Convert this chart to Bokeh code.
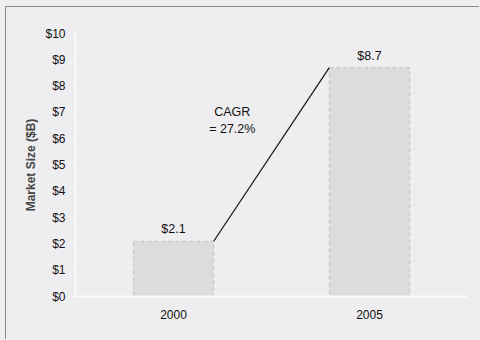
from bokeh.plotting import figure
from bokeh.models import ColumnDataSource, FactorRange, Range1d, NumeralTickFormatter, FixedTicker
from bokeh.core.properties import value
from bokeh.embed import file_html
from bokeh.resources import INLINE

years = ["2000", "2005"]
market = [2.1, 8.7]
bar_labels = ["$2.1", "$8.7"]
y_ticks = [0, 1, 2, 3, 4, 5, 6, 7, 8, 9, 10]
cagr_text = "CAGR\n= 27.2%"

BG = "#eeeef0"
FONT = "Liberation Sans"
BW = 0.41

src = ColumnDataSource(dict(x=years, top=market, label=bar_labels))

p = figure(width=474, height=333, x_range=FactorRange(*years), y_range=Range1d(0, 10),
           output_backend="svg", toolbar_location=None,
           min_border_left=69, min_border_right=13, min_border_top=26, min_border_bottom=44)
p.styles = {"margin-left": "5px", "margin-top": "6px",
            "border-left": "1px solid #8c8c8c", "border-top": "1px solid #8c8c8c"}
p.background_fill_color = BG
p.border_fill_color = BG
p.outline_line_color = None
p.grid.visible = False

p.vbar(x="x", top="top", width=BW, source=src, fill_color="#dcdcdc",
       line_color="#c2c2c2", line_dash="4 3", line_width=1)
p.text(x="x", y="top", text="label", source=src, text_align="center",
       text_baseline="bottom", y_offset=-5, text_font=value(FONT),
       text_font_size="12.5px", text_color="#111111")

# CAGR connector from top-right of first bar to top-left of second bar
p.line(x=[(years[0], BW / 2), (years[1], -BW / 2)], y=[market[0], market[1]],
       line_color="#111111", line_width=1.2)
p.text(x=[(years[0], 0.30)], y=[6.7], text=[cagr_text], text_align="center",
       text_baseline="middle", text_font=value(FONT), text_font_size="12.5px",
       text_color="#111111", text_line_height=1.25)

p.yaxis.ticker = FixedTicker(ticks=y_ticks)
p.yaxis.formatter = NumeralTickFormatter(format="$0")
p.yaxis.axis_label = "Market Size ($B)"
p.yaxis.axis_label_text_font = FONT
p.yaxis.axis_label_text_font_style = "bold"
p.yaxis.axis_label_text_font_size = "12px"
p.yaxis.axis_label_standoff = 4
for ax in (p.xaxis, p.yaxis):
    ax.axis_line_color = "#fafafa"
    ax.axis_line_width = 2
    ax.major_tick_line_color = "#fafafa"
    ax.major_tick_in = 0
    ax.major_tick_out = 3
    ax.minor_tick_line_color = None
    ax.major_label_text_font = FONT
    ax.major_label_text_font_size = "12px"
    ax.major_label_text_color = "#111111"
p.yaxis.major_label_standoff = 7
p.xaxis.major_tick_line_color = None
p.xaxis.major_label_standoff = 10

open("out.html", "w").write(file_html(p, INLINE).replace("<body>", f'<body style="margin:0;background:{BG}">'))
